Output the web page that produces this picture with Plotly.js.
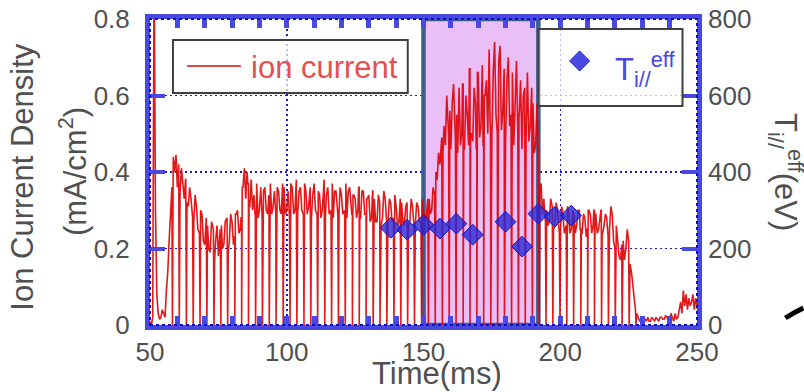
<!DOCTYPE html>
<html>
<head>
<meta charset="utf-8">
<script src="https://cdn.plot.ly/plotly-3.0.1.min.js"></script>
<style>html,body{margin:0;padding:0;background:#fff;}#chart{width:804px;height:392px;}</style>
</head>
<body>
<div id="chart"></div>
<script>
// ---------- data ----------
const timeMs = [50,51,52,53,54,55,56,57,58,59,60,61,62,63,64,65,66,67,68,69,70,71,72,73,74,75,76,77,78,79,80,81,82,83,84,85,86,87,88,89,90,91,92,93,94,95,96,97,98,99,100,101,102,103,104,105,106,107,108,109,110,111,112,113,114,115,116,117,118,119,120,121,122,123,124,125,126,127,128,129,130,131,132,133,134,135,136,137,138,139,140,141,142,143,144,145,146,147,148,149,150,151,152,153,154,155,156,157,158,159,160,161,162,163,164,165,166,167,168,169,170,171,172,173,174,175,176,177,178,179,180,181,182,183,184,185,186,187,188,189,190,191,192,193,194,195,196,197,198,199,200,201,202,203,204,205,206,207,208,209,210,211,212,213,214,215,216,217,218,219,220,221,222,223,224,225,226,227,228,229,230,231,232,233,234,235,236,237,238,239,240,241,242,243,244,245,246,247,248,249,250];
// ion current density (mA/cm^2) sampled at each whole ms ...
const ionA = [0.01,0.02,0.30,0.03,0.02,0.03,0.09,0.22,0.36,0.40,0.36,0.35,0.37,0.38,0.31,0.33,0.27,0.31,0.24,0.29,0.21,0.26,0.19,0.25,0.22,0.18,0.26,0.21,0.28,0.22,0.27,0.23,0.30,0.25,0.36,0.33,0.37,0.38,0.34,0.37,0.30,0.28,0.36,0.29,0.37,0.31,0.29,0.35,0.29,0.36,0.30,0.28,0.36,0.30,0.29,0.36,0.29,0.35,0.31,0.28,0.37,0.29,0.34,0.30,0.28,0.36,0.30,0.28,0.35,0.29,0.34,0.30,0.28,0.36,0.29,0.33,0.30,0.28,0.35,0.29,0.34,0.28,0.33,0.27,0.32,0.28,0.33,0.26,0.32,0.28,0.31,0.27,0.32,0.26,0.32,0.27,0.31,0.26,0.31,0.27,0.30,0.28,0.33,0.30,0.34,0.38,0.42,0.45,0.47,0.50,0.46,0.63,0.55,0.62,0.50,0.46,0.55,0.67,0.48,0.58,0.66,0.52,0.47,0.64,0.72,0.49,0.74,0.50,0.73,0.56,0.48,0.70,0.55,0.47,0.69,0.55,0.46,0.62,0.66,0.52,0.58,0.47,0.40,0.37,0.33,0.30,0.27,0.31,0.26,0.30,0.25,0.29,0.26,0.30,0.25,0.29,0.26,0.30,0.24,0.28,0.25,0.29,0.26,0.29,0.25,0.30,0.26,0.28,0.25,0.29,0.20,0.22,0.17,0.22,0.20,0.22,0.14,0.07,0.03,0.01,0.01,0.015,0.02,0.01,0.015,0.02,0.01,0.02,0.015,0.02,0.015,0.02,0.03,0.02,0.06,0.09,0.08,0.07,0.06,0.04,0.05];
// ... and half a ms later
const ionB = [0.00,0.95,0.08,0.015,0.04,0.02,0.14,0.30,0.44,0.445,0.42,0.41,0.33,0.32,0.36,0.28,0.34,0.25,0.30,0.22,0.28,0.20,0.27,0.17,0.26,0.25,0.20,0.27,0.19,0.29,0.21,0.29,0.24,0.28,0.41,0.40,0.31,0.30,0.29,0.28,0.36,0.35,0.30,0.34,0.29,0.35,0.36,0.30,0.37,0.29,0.35,0.37,0.29,0.38,0.35,0.30,0.37,0.29,0.36,0.34,0.30,0.35,0.28,0.38,0.34,0.29,0.37,0.35,0.29,0.36,0.29,0.37,0.35,0.30,0.34,0.28,0.36,0.35,0.29,0.33,0.27,0.35,0.27,0.34,0.26,0.35,0.27,0.33,0.27,0.34,0.26,0.33,0.27,0.31,0.26,0.33,0.26,0.32,0.27,0.33,0.27,0.33,0.29,0.36,0.40,0.45,0.49,0.52,0.60,0.56,0.58,0.48,0.45,0.47,0.63,0.60,0.47,0.50,0.62,0.46,0.49,0.68,0.60,0.50,0.52,0.66,0.55,0.69,0.51,0.67,0.64,0.52,0.66,0.62,0.50,0.64,0.60,0.49,0.48,0.62,0.45,0.58,0.35,0.29,0.27,0.26,0.33,0.25,0.32,0.24,0.31,0.24,0.31,0.24,0.30,0.24,0.30,0.25,0.29,0.23,0.30,0.24,0.30,0.24,0.29,0.24,0.29,0.23,0.31,0.22,0.26,0.18,0.21,0.17,0.25,0.16,0.10,0.04,0.02,0.015,0.02,0.01,0.01,0.02,0.01,0.015,0.02,0.015,0.025,0.01,0.03,0.01,0.015,0.04,0.03,0.05,0.04,0.05,0.08,0.07,0.03];
// times (ms) of the periodic drops of the ion current to zero
const dropT = [58.2,60.7,63.3,65.8,68.3,70.8,73.4,75.9,78.4,81.0,83.5,86.0,88.6,91.1,93.6,96.1,98.7,101.2,103.7,106.3,108.8,111.3,113.9,116.4,118.9,121.4,124.0,126.5,129.0,131.6,134.1,136.6,139.2,141.7,144.2,146.7,149.3,151.8,154.3,156.9,159.4,161.9,164.5,167.0,169.5,172.0,174.6,177.1,179.6,182.2,184.7,187.2,189.8,192.3,194.8,197.3,199.9,202.4,204.9,207.5,210.0,212.5,215.1,217.6,220.1,222.6,225.2,227.7];
// effective parallel ion temperature (eV)
const tiT = [138,144,150,156,162,168,180,186,192,198,204];
const tiV = [254,249,262,252,265,236,270,205,291,283,286];
// shaded interval (ms)
const shadeT = [150,192];

// ---------- build the ion-current polyline ----------
const sig = [];
for (let i = 0; i < timeMs.length; i++) {
  sig.push([timeMs[i], ionA[i]]);
  sig.push([timeMs[i] + 0.5, ionB[i]]);
}
sig.sort((a, b) => a[0] - b[0]);
const pts = sig.slice();
dropT.forEach(td => {
  const before = sig.filter(p => p[0] <= td).pop();
  const after = sig.find(p => p[0] > td);
  pts.push([td - 0.22, before[1]], [td, 0], [td + 0.22, after ? after[1] : 0]);
});
pts.sort((a, b) => a[0] - b[0]);

const FONT = 'Liberation Sans, Arial, sans-serif';
const GRAY = '#505050';
const FRAME = 'rgb(72,72,226)';

const traces = [
  {
    x: pts.map(p => p[0]), y: pts.map(p => p[1]),
    type: 'scatter', mode: 'lines', name: 'ion current',
    line: {color: 'rgb(224,0,0)', width: 1.6}, opacity: 0.9,
    showlegend: false, hoverinfo: 'skip'
  },
  {
    x: tiT, y: tiV, yaxis: 'y2',
    type: 'scatter', mode: 'markers', name: 'Ti',
    marker: {symbol: 'diamond', size: 16, color: 'rgba(40,40,215,0.8)', line: {color: 'rgb(25,25,200)', width: 1}},
    showlegend: false, hoverinfo: 'skip'
  }
];

const layout = {
  width: 804, height: 392,
  margin: {l: 150, r: 107, t: 19, b: 67},
  paper_bgcolor: '#fff', plot_bgcolor: '#fff',
  showlegend: false,
  font: {family: FONT, color: GRAY},
  xaxis: {
    range: [50, 250], tick0: 50, dtick: 50,
    ticks: 'inside', ticklen: 9, tickwidth: 5, tickcolor: FRAME,
    minor: {dtick: 10, ticks: 'inside', ticklen: 6, tickwidth: 5, tickcolor: FRAME, showgrid: false},
    showline: true, linecolor: FRAME, linewidth: 5, mirror: 'allticks',
    showgrid: true, gridcolor: 'rgb(25,25,220)', gridwidth: 1.5, griddash: '2px,3px',
    zeroline: false,
    tickfont: {size: 26, color: GRAY, family: FONT}
  },
  yaxis: {
    range: [0, 0.8], dtick: 0.2,
    ticks: 'inside', ticklen: 15, tickwidth: 4, tickcolor: FRAME,
    showline: true, linecolor: FRAME, linewidth: 5, mirror: true,
    showgrid: true, gridcolor: 'rgb(25,25,220)', gridwidth: 1.5, griddash: '2px,3px',
    zeroline: false, ticklabelstandoff: 10,
    tickfont: {size: 26, color: GRAY, family: FONT}
  },
  yaxis2: {
    range: [0, 800], dtick: 200, overlaying: 'y', side: 'right',
    ticks: 'inside', ticklen: 15, tickwidth: 4, tickcolor: FRAME,
    showline: false, showgrid: false, zeroline: false, ticklabelstandoff: 10,
    tickfont: {size: 26, color: GRAY, family: FONT}
  },
  shapes: [
    {type: 'rect', xref: 'x', yref: 'y', x0: shadeT[0], x1: shadeT[1], y0: 0, y1: 0.8,
     fillcolor: 'rgb(234,191,247)', line: {color: 'rgb(62,92,140)', width: 4.5}, layer: 'between'},
    {type: 'rect', xref: 'paper', yref: 'paper', x0: 0, x1: 1, y0: 0, y1: 1,
     line: {color: 'rgb(15,15,200)', width: 2, dash: 'dot'}, layer: 'above'},
    // legend boxes
    {type: 'rect', xref: 'paper', yref: 'paper', x0: 0.042, x1: 0.4712, y0: 0.7582, y1: 0.9314,
     fillcolor: 'rgba(255,255,255,0.7)', line: {color: '#404040', width: 2}, layer: 'above'},
    {type: 'line', xref: 'paper', yref: 'paper', x0: 0.0676, x1: 0.1662, y0: 0.8464, y1: 0.8464,
     line: {color: 'rgb(232,70,70)', width: 2}, layer: 'above'},
    {type: 'rect', xref: 'paper', yref: 'paper', x0: 0.7105, x1: 0.9735, y0: 0.7157, y1: 0.9673,
     fillcolor: 'rgba(255,255,255,0.7)', line: {color: '#404040', width: 2}, layer: 'above'},
    {type: 'path', xref: 'paper', yref: 'paper', xsizemode: 'pixel', ysizemode: 'pixel',
     xanchor: 0.7854, yanchor: 0.8627, path: 'M -10 0 L 0 10 L 10 0 L 0 -10 Z',
     fillcolor: 'rgb(74,74,224)', line: {color: 'rgb(30,30,205)', width: 1}, layer: 'above'},
    // stray black stroke at bottom right
    {type: 'path', xref: 'paper', yref: 'paper',
     path: 'M 1.1616 0.0229 Q 1.178 0.042 1.1945 0.0556', line: {color: '#000', width: 5}, layer: 'above'}
  ],
  annotations: [
    {text: 'Ion Current Density', xref: 'paper', yref: 'paper', x: -0.2338, y: 0.485,
     textangle: -90, showarrow: false, xanchor: 'center', yanchor: 'middle', font: {size: 31, color: GRAY}},
    {text: '(mA/cm<sup>2</sup>)', xref: 'paper', yref: 'paper', x: -0.1406, y: 0.5,
     textangle: -90, showarrow: false, xanchor: 'center', yanchor: 'middle', font: {size: 31, color: GRAY}},
    {text: 'Time(ms)', xref: 'paper', yref: 'paper', x: 0.5242, y: -0.16,
     showarrow: false, xanchor: 'center', yanchor: 'middle', font: {size: 31, color: GRAY}},
    {text: 'T<sub>i//</sub><sup>eff</sup>(eV)', xref: 'paper', yref: 'paper', x: 1.1625, y: 0.5,
     textangle: 90, showarrow: false, xanchor: 'center', yanchor: 'middle', font: {size: 31, color: GRAY}},
    {text: 'ion current', xref: 'paper', yref: 'paper', x: 0.1808, y: 0.840,
     showarrow: false, xanchor: 'left', yanchor: 'middle', font: {size: 31, color: 'rgb(228,80,80)'}},
    {text: 'T<sub>i//</sub><sup>eff</sup>', xref: 'paper', yref: 'paper', x: 0.8457, y: 0.836,
     showarrow: false, xanchor: 'left', yanchor: 'middle', font: {size: 31, color: 'rgb(72,72,224)'}}
  ]
};

Plotly.newPlot('chart', traces, layout, {staticPlot: true, displayModeBar: false});
</script>
</body>
</html>
